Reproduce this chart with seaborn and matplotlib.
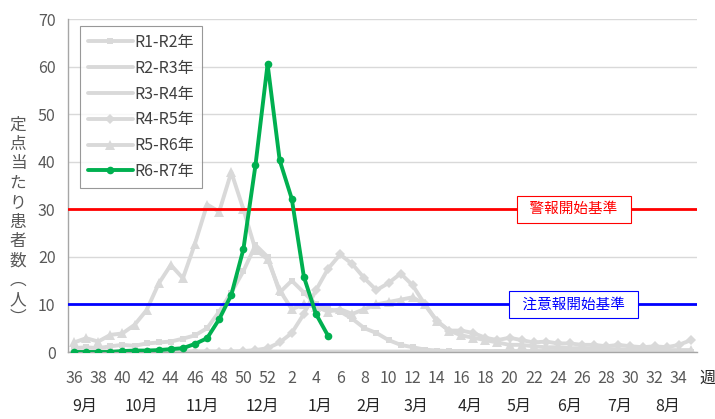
import matplotlib
matplotlib.use("Agg")
import matplotlib.pyplot as plt
import pandas as pd
import seaborn as sns

# --- week axis: week 36 of one year to week 35 of the next ---
weeks = list(range(36, 53)) + list(range(1, 36))
month_labels = ["9月", "10月", "11月", "12月", "1月", "2月", "3月", "4月", "5月", "6月", "7月", "8月"]

# --- patients per sentinel site ---
r1_r2 = [0.8, 1.0, 0.8, 1.2, 1.5, 1.3, 1.8, 2.0, 2.2, 2.8, 3.5, 5.0, 8.5, 12.5, 17.0, 22.5, 20.0,
         12.5, 15.0, 12.5, 10.0, 9.0, 8.5, 7.0, 5.0, 4.0, 2.5, 1.5, 1.0, 0.5, 0.3, 0.2, 0.1,
         0.1, 0.1, 0.1, 0.1, 0.1, 0.1, 0.1, 0.1, 0.1, 0.1, 0.1, 0.1, 0.1, 0.1, 0.1, 0.1, 0.1, 0.1, 0.1]
r2_r3 = [0.1, 0.1, 0.1, 0.1, 0.1, 0.1, 0.1, 0.1, 0.1, 0.1, 0.1, 0.1, 0.1, 0.1, 0.1, 0.1, 0.1,
         0.1, 0.1, 0.1, 0.1, 0.1, 0.1, 0.1, 0.1, 0.1, 0.1, 0.1, 0.1, 0.1, 0.1, 0.1, 0.1,
         0.1, 0.1, 0.1, 0.1, 0.1, 0.1, 0.1, 0.1, 0.1, 0.1, 0.1, 0.1, 0.1, 0.1, 0.1, 0.1, 0.1, 0.1, 0.1]
r3_r4 = [0.1, 0.1, 0.1, 0.1, 0.1, 0.1, 0.1, 0.1, 0.1, 0.1, 0.1, 0.1, 0.1, 0.1, 0.1, 0.1, 0.1,
         0.1, 0.1, 0.1, 0.1, 0.1, 0.1, 0.1, 0.1, 0.1, 0.1, 0.1, 0.1, 0.2, 0.2, 0.2, 0.2,
         0.2, 0.2, 0.2, 0.2, 0.2, 0.2, 0.2, 0.2, 0.2, 0.2, 0.2, 0.2, 0.2, 0.2, 0.2, 0.2, 0.2, 0.2, 0.2]
r4_r5 = [0.1, 0.1, 0.1, 0.1, 0.1, 0.1, 0.1, 0.1, 0.1, 0.1, 0.1, 0.1, 0.1, 0.1, 0.2, 0.4, 0.8,
         2.0, 4.0, 8.0, 13.0, 17.5, 20.5, 18.5, 15.5, 13.0, 14.5, 16.5, 14.0, 10.0, 6.5, 4.5, 4.5,
         4.0, 3.0, 2.5, 3.0, 2.5, 2.0, 2.2, 1.8, 1.8, 1.5, 1.5, 1.2, 1.5, 1.2, 1.0, 1.2, 1.0, 1.5, 2.5]
r5_r6 = [2.0, 2.9, 2.2, 3.6, 3.9, 5.7, 8.8, 14.4, 18.3, 15.5, 22.8, 31.0, 29.5, 37.8, 30.0, 21.5, 19.5,
         13.0, 9.0, 10.0, 9.5, 8.5, 9.0, 8.0, 9.0, 10.0, 10.5, 11.0, 11.5, 10.0, 6.5, 4.5, 3.5,
         3.0, 2.5, 2.0, 1.5, 1.5, 1.2, 1.0, 1.0, 0.8, 0.8, 0.7, 0.6, 0.6, 0.5, 0.5, 0.5, 0.4, 0.4, 0.4]
r6_r7 = [0.0, 0.0, 0.0, 0.0, 0.2, 0.3, 0.3, 0.4, 0.6, 0.8, 1.7, 2.9, 6.9, 12.0, 21.6, 39.3, 60.5,
         40.3, 32.2, 15.8, 8.0, 3.4]

warning_level = 30
advisory_level = 10

seasons = [
    ("R1-R2年", r1_r2, "s", 4.5),
    ("R2-R3年", r2_r3, None, 0),
    ("R3-R4年", r3_r4, None, 0),
    ("R4-R5年", r4_r5, "D", 5),
    ("R5-R6年", r5_r6, "^", 6.5),
]

sns.set_theme(style="white")
plt.rcParams["font.family"] = ["Noto Sans CJK JP", "DejaVu Sans"]
plt.rcParams["axes.unicode_minus"] = False

fig = plt.figure(figsize=(7.15, 4.19), dpi=100)
ax = fig.add_axes([68 / 715, 67 / 419, 629 / 715, 333 / 419])

grey = "#d9d9d9"
txt = "#595959"

# --- past seasons in grey ---
for name, vals, mk, ms in seasons:
    d = pd.DataFrame({"pos": range(len(vals)), "value": vals})
    sns.lineplot(data=d, x="pos", y="value", ax=ax, color=grey, linewidth=2.8,
                 marker=mk, markersize=ms, markeredgewidth=0, label=name, zorder=2)

# --- threshold lines ---
ax.axhline(warning_level, color="#ff0000", linewidth=2, zorder=3)
ax.axhline(advisory_level, color="#0000ff", linewidth=2, zorder=3)
ax.text(41.3, warning_level, "  警報開始基準  ", color="#ff0000", fontsize=10.5,
        ha="center", va="center", zorder=4,
        bbox=dict(boxstyle="square,pad=0.45", fc="white", ec="#ff0000", lw=0.8))
ax.text(41.3, advisory_level, "  注意報開始基準  ", color="#0000ff", fontsize=10.5,
        ha="center", va="center", zorder=4,
        bbox=dict(boxstyle="square,pad=0.45", fc="white", ec="#0000ff", lw=0.8))

# --- current season ---
d = pd.DataFrame({"pos": range(len(r6_r7)), "value": r6_r7})
sns.lineplot(data=d, x="pos", y="value", ax=ax, color="#00b050", linewidth=2.8,
             marker="o", markersize=5.5, markeredgewidth=0, label="R6-R7年", zorder=5)

# --- axes ---
ax.set_xlim(-0.5, len(weeks) - 0.5)
ax.set_ylim(0, 70)
ax.set_yticks(range(0, 71, 10))
ax.set_xticks(range(0, len(weeks), 2))
ax.set_xticklabels([str(w) for w in weeks[::2]])
ax.tick_params(axis="both", length=0, labelsize=11.5, labelcolor=txt)
ax.tick_params(axis="x", pad=13)
ax.tick_params(axis="y", pad=9)
ax.set_xlabel("")
ax.set_ylabel("")
ax.yaxis.grid(True, color=grey, linewidth=1)
ax.set_axisbelow(True)
for s in ["top", "right"]:
    ax.spines[s].set_visible(False)
for s in ["left", "bottom"]:
    ax.spines[s].set_color("#a6a6a6")
    ax.spines[s].set_linewidth(1)

# month row under the week numbers
month_pos = [0.9, 5.6, 10.6, 15.6, 20.3, 24.4, 28.3, 32.7, 36.8, 41.0, 45.1, 49.1]
for p, m in zip(month_pos, month_labels):
    ax.text(p, -0.163, m, transform=ax.get_xaxis_transform(), ha="center", va="center",
            fontsize=11.5, color="#262626")
ax.text(52.4, -0.078, "週", transform=ax.get_xaxis_transform(), ha="center", va="center",
        fontsize=11.5, color="#262626", clip_on=False)

# vertical y label
fig.text(18 / 715, 1 - 222 / 419, "\n".join("定点当たり患者数︵人︶"), ha="center", va="center",
         fontsize=12, color=txt, linespacing=1.18)

leg = ax.legend(loc="upper left", bbox_to_anchor=(12 / 629, 1 - 7 / 333), borderaxespad=0,
                fontsize=11.5, frameon=True, fancybox=False, edgecolor="#7f7f7f",
                labelspacing=0.55, handlelength=2.8, handletextpad=0.1, borderpad=0.5)
leg.get_frame().set_linewidth(0.8)
for t in leg.get_texts():
    t.set_color("#404040")

fig.savefig("out.png", dpi=100)
